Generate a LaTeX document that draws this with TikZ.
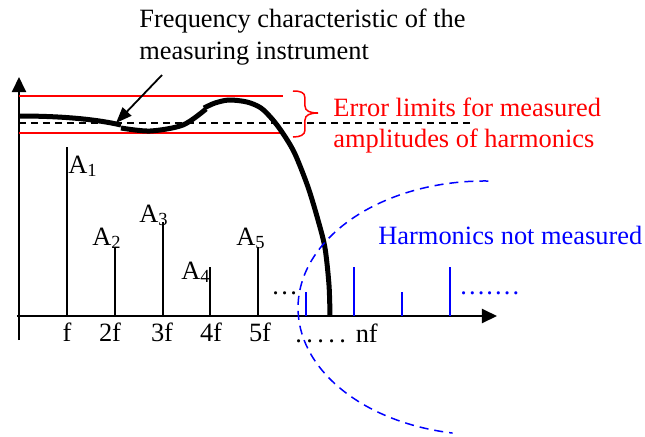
\documentclass[tikz,border=0pt]{standalone}
\usepackage{fontspec}
\setmainfont{Liberation Serif}
\usetikzlibrary{arrows.meta}
\begin{document}
\begin{tikzpicture}[x=0.5pt,y=-0.5pt,
  lbl/.style={inner sep=0pt, font=\fontsize{13.2}{15}\selectfont},
  axis/.style={line width=1pt, -{Triangle[length=7.5pt,width=7pt]}},
  spec/.style={line width=0.75pt},
  hspec/.style={line width=0.8pt, blue},
  limit/.style={line width=0.75pt, red},
  resp/.style={line width=2.5pt},
  nominal/.style={line width=0.6pt, dash pattern=on 3.5pt off 2.5pt},
  outer/.style={line width=0.75pt, blue, dash pattern=on 4.5pt off 3pt},
  pointer/.style={line width=0.9pt, -{Triangle[length=8pt,width=6pt]}},
]
\useasboundingbox (0,0) rectangle (645,436);

% axes
\coordinate (ybot) at (19,340);
\coordinate (ytop) at (19,77);
\coordinate (xleft) at (17,316);
\coordinate (xright) at (497,316);
\draw[axis] (ybot) -- (ytop);
\draw[axis] (xleft) -- (xright);

% error limits and nominal level
\coordinate (lt1) at (19,96);  \coordinate (lt2) at (283,96);
\coordinate (lb1) at (19,133); \coordinate (lb2) at (283,133);
\coordinate (n1) at (19,123);  \coordinate (n2) at (473,123);
\draw[limit] (lt1) -- (lt2);
\draw[limit] (lb1) -- (lb2);
\draw[nominal] (n1) -- (n2);

% brace
\draw[limit] (293,91) .. controls (300,91) and (305,92) .. (305,98) -- (305,106)
  .. controls (305,111) and (310,113) .. (318,113)
  .. controls (310,113) and (305,115) .. (305,120) -- (305,130)
  .. controls (305,135) and (300,137) .. (293,137);

% measured harmonics
\foreach \n/\x/\t in {1/67/147, 2/115/247, 3/163/222, 4/210/267, 5/258/247}{
  \coordinate (hb\n) at (\x,316);
  \coordinate (ht\n) at (\x,\t);
  \draw[spec] (hb\n) -- (ht\n);
}
% not measured harmonics
\foreach \n/\x/\t in {1/306/292, 2/354/267, 3/402/292, 4/450/267}{
  \coordinate (gb\n) at (\x,316);
  \coordinate (gt\n) at (\x,\t);
  \draw[hspec] (gb\n) -- (gt\n);
}

% frequency characteristic
\draw[resp] (19,116) .. controls (60,116) and (95,119) .. (121,125);
\draw[resp] plot[smooth] coordinates {(121,128) (150,131) (183,125) (206,109)};
\draw[resp] plot[smooth] coordinates {(204,108) (215,103) (229,100) (247,102) (261,108) (273,120) (284,135) (295,154) (308,187) (318,220) (325,248) (329,285) (330,316)};

% blue boundary
\draw[outer] (488.3,181) arc[start angle=271, end angle=100, x radius=187, y radius=127];

% labels
\node[lbl, anchor=base west] (freq1) at (139,27) {Frequency characteristic of the};
\node[lbl, anchor=base west] (freq2) at (139,59) {measuring instrument};
\coordinate (pstart) at (162,75);
\coordinate (ptip) at (116,123);
\draw[pointer] (pstart) -- (ptip);

\node[lbl, red, anchor=base west] (err1) at (333,116) {Error limits for measured};
\node[lbl, red, anchor=base west] (err2) at (333,147) {amplitudes of harmonics};
\node[lbl, blue, anchor=base west] (notm) at (378,244) {Harmonics not measured};

\node[lbl, anchor=base west] (a1) at (68,173) {A\textsubscript{1}};
\node[lbl, anchor=base west] (a2) at (92,245) {A\textsubscript{2}};
\node[lbl, anchor=base west] (a3) at (139,222) {A\textsubscript{3}};
\node[lbl, anchor=base west] (a4) at (181,279) {A\textsubscript{4}};
\node[lbl, anchor=base west] (a5) at (236,245) {A\textsubscript{5}};

\node[lbl, anchor=base] (f1) at (67,341) {f};
\node[lbl, anchor=base] (f2) at (110,341) {2f};
\node[lbl, anchor=base] (f3) at (162,341) {3f};
\node[lbl, anchor=base] (f4) at (211,341) {4f};
\node[lbl, anchor=base] (f5) at (260,341) {5f};
\node[lbl, anchor=base west] (fn) at (295,342) {.\kern2.2pt.\kern2.2pt.\kern2.2pt.\kern2.2pt.\hspace{0.5pt} nf};

\node[lbl, anchor=base west] (bdots) at (272,294) {.\kern1.2pt.\kern1.2pt.};
\node[lbl, blue, anchor=base west] (gdots) at (460,294) {.\kern1.05pt.\kern1.05pt.\kern1.05pt.\kern1.05pt.\kern1.05pt.\kern1.05pt.};
\end{tikzpicture}
\end{document}
